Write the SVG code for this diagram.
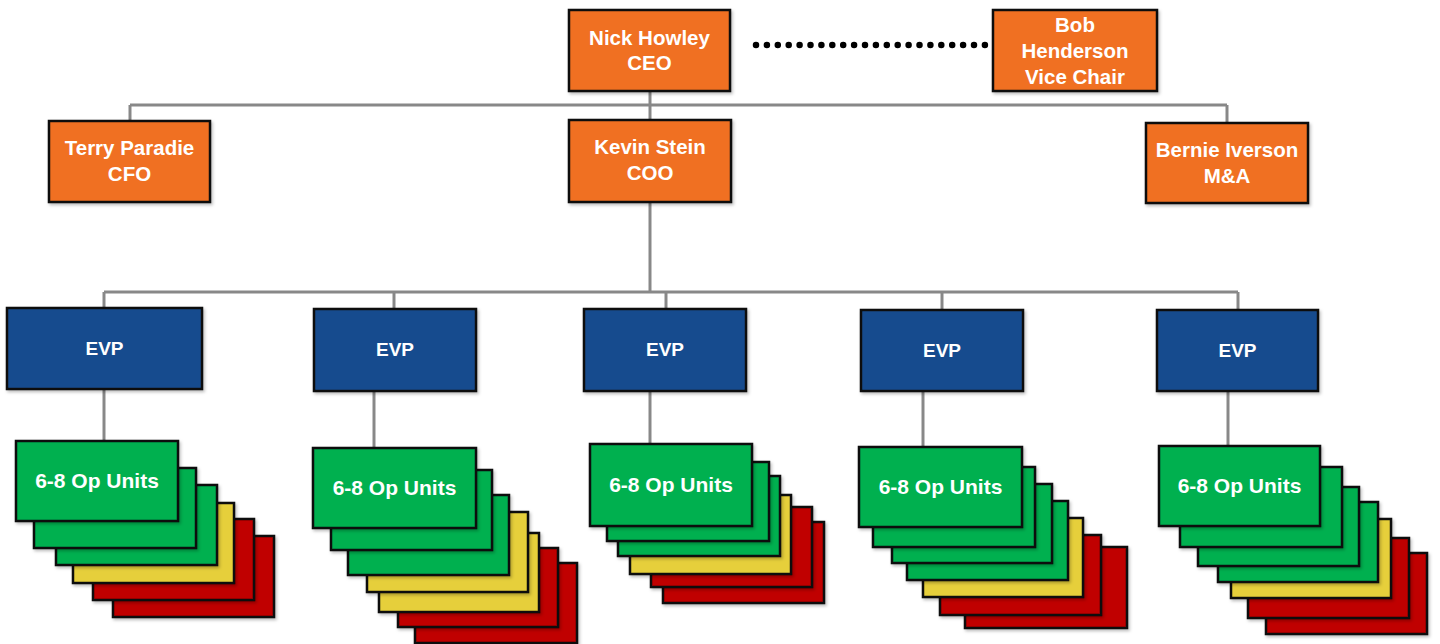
<svg xmlns="http://www.w3.org/2000/svg" width="1440" height="644" viewBox="0 0 1440 644">
<defs>
<filter id="sh" x="-10%" y="-10%" width="130%" height="130%">
<feDropShadow dx="1.5" dy="2" stdDeviation="1.5" flood-color="#000" flood-opacity="0.25"/>
</filter>
<style>
.box{stroke:#111;stroke-width:2.5;filter:url(#sh)}
.or{fill:#F07020}
.bl{fill:#134B8E}
.gr{fill:#00B050}
.ye{fill:#E6CF3A}
.rd{fill:#C00000}
.t{font-family:"Liberation Sans",Arial,sans-serif;font-weight:bold;fill:#fff;text-anchor:middle;font-size:20.5px}
.te{font-family:"Liberation Sans",Arial,sans-serif;font-weight:bold;fill:#fff;text-anchor:middle;font-size:19px}
.tu{font-family:"Liberation Sans",Arial,sans-serif;font-weight:bold;fill:#fff;text-anchor:middle;font-size:21px}
.ln{stroke:#888;stroke-width:3;fill:none}
</style>
</defs>
<rect width="1440" height="644" fill="#fff"/>
<g id="connectors">
<line class="ln" x1="650" y1="91" x2="650" y2="121"/>
<line class="ln" x1="130" y1="105" x2="1227" y2="105"/>
<line class="ln" x1="130" y1="105" x2="130" y2="121"/>
<line class="ln" x1="1227" y1="105" x2="1227" y2="123"/>
<line class="ln" x1="650" y1="202" x2="650" y2="292"/>
<line class="ln" x1="104" y1="292" x2="1238" y2="292"/>
<line class="ln" x1="104" y1="292" x2="104" y2="308"/>
<line class="ln" x1="394" y1="292" x2="394" y2="309"/>
<line class="ln" x1="666" y1="292" x2="666" y2="309"/>
<line class="ln" x1="942" y1="292" x2="942" y2="310"/>
<line class="ln" x1="1238" y1="292" x2="1238" y2="310"/>
<line class="ln" x1="104" y1="389" x2="104" y2="441"/>
<line class="ln" x1="374" y1="391" x2="374" y2="448"/>
<line class="ln" x1="650" y1="391" x2="650" y2="444"/>
<line class="ln" x1="923" y1="391" x2="923" y2="447"/>
<line class="ln" x1="1228" y1="391" x2="1228" y2="446"/>
<line x1="756" y1="45" x2="990" y2="45" stroke="#000" stroke-width="6.5" stroke-linecap="round" stroke-dasharray="0 10.9"/>
</g>
<g id="ceo"><rect class="box or" x="569" y="10" width="161" height="81"/><text class="t" x="649.5" y="45">Nick Howley</text><text class="t" x="649.5" y="70">CEO</text></g>
<g id="vicechair"><rect class="box or" x="993" y="10" width="164" height="81"/><text class="t" x="1075" y="32">Bob</text><text class="t" x="1075" y="58">Henderson</text><text class="t" x="1075" y="84">Vice Chair</text></g>
<g id="cfo"><rect class="box or" x="49" y="121" width="161" height="81"/><text class="t" x="129.5" y="155">Terry Paradie</text><text class="t" x="129.5" y="181">CFO</text></g>
<g id="coo"><rect class="box or" x="569" y="120" width="162" height="82"/><text class="t" x="650" y="154">Kevin Stein</text><text class="t" x="650" y="180">COO</text></g>
<g id="ma"><rect class="box or" x="1146" y="123" width="162" height="80"/><text class="t" x="1227" y="157">Bernie Iverson</text><text class="t" x="1227" y="183">M&amp;A</text></g>
<g id="evp1"><rect class="box bl" x="7" y="308" width="195" height="81"/><text class="te" x="104.5" y="355">EVP</text></g>
<g id="evp2"><rect class="box bl" x="314" y="309" width="162" height="82"/><text class="te" x="395" y="356">EVP</text></g>
<g id="evp3"><rect class="box bl" x="584" y="309" width="162" height="82"/><text class="te" x="665" y="356">EVP</text></g>
<g id="evp4"><rect class="box bl" x="861" y="310" width="162" height="81"/><text class="te" x="942" y="357">EVP</text></g>
<g id="evp5"><rect class="box bl" x="1157" y="310" width="161" height="81"/><text class="te" x="1237.5" y="357">EVP</text></g>
<g id="units1">
<rect class="box rd" x="113" y="536" width="161" height="81"/>
<rect class="box rd" x="93" y="519" width="161" height="81"/>
<rect class="box ye" x="73" y="503" width="161" height="80"/>
<rect class="box gr" x="56" y="485" width="161" height="80"/>
<rect class="box gr" x="34" y="468" width="162" height="80"/>
<rect class="box gr" x="16" y="441" width="162" height="80"/>
<text class="tu" x="97" y="488">6-8 Op Units</text>
</g>
<g id="units2">
<rect class="box rd" x="415" y="563" width="162" height="80"/>
<rect class="box rd" x="398" y="548" width="160" height="79"/>
<rect class="box ye" x="379" y="533" width="160" height="79"/>
<rect class="box ye" x="367" y="512" width="161" height="80"/>
<rect class="box gr" x="348" y="495" width="161" height="80"/>
<rect class="box gr" x="331" y="470" width="161" height="80"/>
<rect class="box gr" x="313" y="448" width="163" height="80"/>
<text class="tu" x="394.5" y="495">6-8 Op Units</text>
</g>
<g id="units3">
<rect class="box rd" x="663" y="522" width="161" height="81"/>
<rect class="box rd" x="651" y="507" width="161" height="80"/>
<rect class="box ye" x="630" y="495" width="161" height="79"/>
<rect class="box gr" x="618" y="476" width="162" height="80"/>
<rect class="box gr" x="607" y="462" width="162" height="79"/>
<rect class="box gr" x="590" y="444" width="162" height="82"/>
<text class="tu" x="671" y="492">6-8 Op Units</text>
</g>
<g id="units4">
<rect class="box rd" x="965" y="547" width="162" height="81"/>
<rect class="box rd" x="940" y="535" width="161" height="80"/>
<rect class="box ye" x="923" y="518" width="160" height="79"/>
<rect class="box gr" x="907" y="501" width="161" height="79"/>
<rect class="box gr" x="892" y="484" width="160" height="79"/>
<rect class="box gr" x="873" y="467" width="162" height="80"/>
<rect class="box gr" x="859" y="447" width="163" height="80"/>
<text class="tu" x="940.5" y="494">6-8 Op Units</text>
</g>
<g id="units5">
<rect class="box rd" x="1266" y="553" width="161" height="81"/>
<rect class="box rd" x="1248" y="538" width="161" height="80"/>
<rect class="box ye" x="1231" y="519" width="160" height="79"/>
<rect class="box gr" x="1218" y="502" width="160" height="80"/>
<rect class="box gr" x="1198" y="487" width="161" height="79"/>
<rect class="box gr" x="1180" y="467" width="162" height="80"/>
<rect class="box gr" x="1159" y="446" width="161" height="80"/>
<text class="tu" x="1239.5" y="493">6-8 Op Units</text>
</g>
</svg>
